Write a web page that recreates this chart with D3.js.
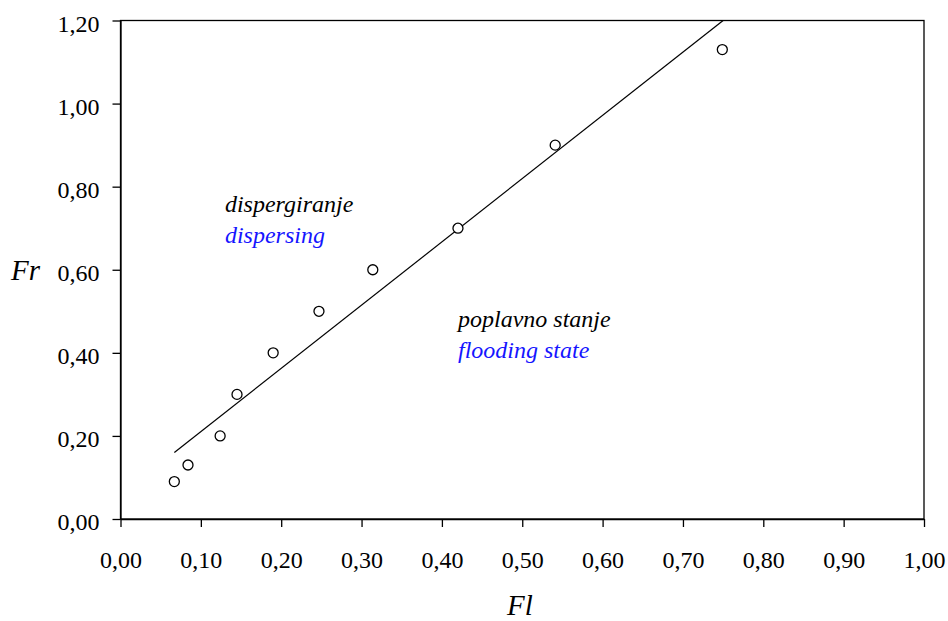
<!DOCTYPE html>
<html>
<head>
<meta charset="utf-8">
<script src="https://cdn.jsdelivr.net/npm/d3@7/dist/d3.min.js"></script>
</head>
<body style="margin:0;background:#fff">
<svg id="fig" width="948" height="621" style="display:block"></svg>
<script>
// Measured flow numbers: liquid (Fl) vs. gas (Fr)
const flValues = [0.067, 0.084, 0.124, 0.145, 0.190, 0.247, 0.314, 0.420, 0.541, 0.749];
const frValues = [0.09, 0.13, 0.20, 0.30, 0.40, 0.50, 0.60, 0.70, 0.90, 1.13];

// Boundary line between the two regimes (end points)
const boundaryFl = [0.067, 0.750];
const boundaryFr = [0.16, 1.20];

const xTicks = [0, 0.1, 0.2, 0.3, 0.4, 0.5, 0.6, 0.7, 0.8, 0.9, 1.0];
const yTicks = [0, 0.2, 0.4, 0.6, 0.8, 1.0, 1.2];

const regionLabels = [
  { fl: 0.130, fr: 0.740, native: "dispergiranje", english: "dispersing" },
  { fl: 0.420, fr: 0.461, native: "poplavno stanje", english: "flooding state" }
];

const FONT = "'Liberation Serif', 'Times New Roman', serif";
const svg = d3.select("#fig");
const margin = { left: 120.5, top: 20.5, right: 24, bottom: 102 };
const W = 948, H = 621;

const x = d3.scaleLinear().domain([0, 1]).range([margin.left, W - margin.right]);
const y = d3.scaleLinear().domain([0, 1.2]).range([H - margin.bottom, margin.top]);

const fmt = d => d.toFixed(2).replace(".", ",");
const serif = (sel, size, italic) => sel
  .style("font-family", FONT, "important")
  .style("font-size", size + "px")
  .style("font-style", italic ? "italic" : "normal", "important");

// plot frame
svg.append("rect")
  .attr("x", x(0)).attr("y", y(1.2))
  .attr("width", x(1) - x(0)).attr("height", y(0) - y(1.2))
  .attr("fill", "none").attr("stroke", "#000").attr("stroke-width", 1.3);

// axes
const xAxis = svg.append("g")
  .attr("transform", `translate(0,${y(0)})`)
  .call(d3.axisBottom(x).tickValues(xTicks).tickFormat(fmt).tickSize(8).tickPadding(24).tickSizeOuter(0));
const yAxis = svg.append("g")
  .attr("transform", `translate(${x(0)},0)`)
  .call(d3.axisLeft(y).tickValues(yTicks).tickFormat(fmt).tickSize(8).tickPadding(13).tickSizeOuter(0));

[xAxis, yAxis].forEach(g => {
  g.attr("font-family", null).attr("font-size", null);
  g.select(".domain").attr("stroke", "#000").attr("stroke-width", 1.3);
  g.selectAll(".tick line").attr("stroke", "#000").attr("stroke-width", 1.3);
  serif(g.selectAll(".tick text").attr("fill", "#000"), 24, false);
});
yAxis.selectAll(".tick text").attr("dy", "0.45em");

// regime boundary
svg.append("line")
  .attr("x1", x(boundaryFl[0])).attr("y1", y(boundaryFr[0]))
  .attr("x2", x(boundaryFl[1])).attr("y2", y(boundaryFr[1]))
  .attr("stroke", "#000").attr("stroke-width", 1.2);

// measured points
svg.append("g").selectAll("circle")
  .data(flValues.map((v, i) => [v, frValues[i]]))
  .join("circle")
  .attr("cx", d => x(d[0])).attr("cy", d => y(d[1]))
  .attr("r", 5)
  .attr("fill", "#fff").attr("stroke", "#000").attr("stroke-width", 1.3);

// regime labels
regionLabels.forEach(r => {
  serif(svg.append("text").attr("x", x(r.fl)).attr("y", y(r.fr)).attr("fill", "#000").text(r.native), 24, true);
  serif(svg.append("text").attr("x", x(r.fl)).attr("y", y(r.fr) + 31).attr("fill", "#1515ff").text(r.english), 24, true);
});

// axis titles
serif(svg.append("text").attr("x", 11).attr("y", 280).text("Fr"), 29, true);
serif(svg.append("text").attr("x", 520).attr("y", 615).attr("text-anchor", "middle").text("Fl"), 29, true);
</script>
</body>
</html>
